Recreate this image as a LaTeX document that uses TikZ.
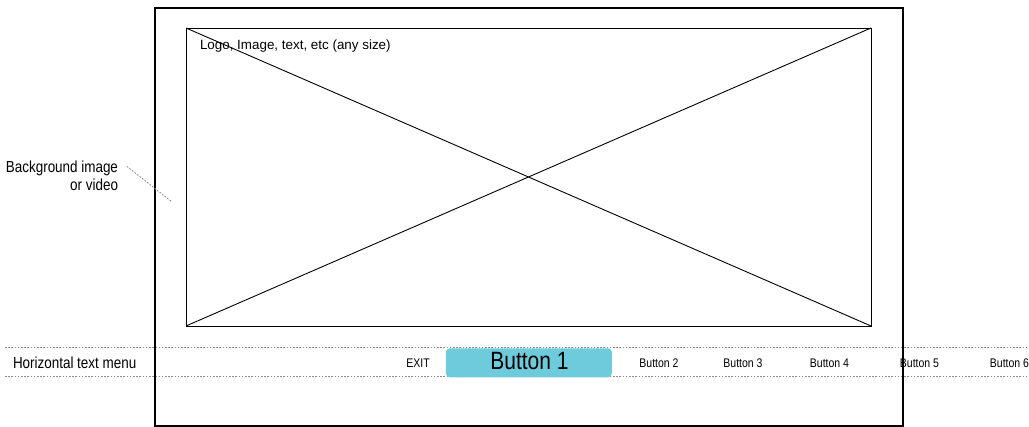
\documentclass[tikz,border=0pt]{standalone}
\usepackage{fontspec}
\setmainfont{Liberation Sans}[FakeStretch=0.84]
\newfontfamily\plainsans{Liberation Sans}
\begin{document}
\begin{tikzpicture}[x=1pt,y=-1pt,
  every node/.style={inner sep=0pt,outer sep=0pt,font=\fontsize{13}{15}\selectfont},
  frame/.style={draw=black,line width=2pt},
  hero/.style={draw=black,line width=0.9pt},
  guide/.style={draw=black!45,line width=1.1pt,dash pattern=on 1.6pt off 1.6pt},
  menuitem/.style={anchor=base,font=\fontsize{12.5}{14}\selectfont},
  note/.style={font=\fontsize{16}{18.3}\selectfont}]
\definecolor{btnblue}{HTML}{6ECBDC}
\useasboundingbox (0,0) rectangle (1029,427);

% menu guide lines
\coordinate (gTopL) at (5,347.5);
\coordinate (gTopR) at (1029,347.5);
\coordinate (gBotL) at (5,376.5);
\coordinate (gBotR) at (1029,376.5);
\draw[guide] (gTopL) -- (gTopR);
\draw[guide] (gBotL) -- (gBotR);

% hero area with placeholder cross
\node[hero,minimum width=685pt,minimum height=298pt] (hero) at (528.5,177) {};
\draw[line width=0.9pt] (hero.north west) -- (hero.south east);
\draw[line width=0.9pt] (hero.south west) -- (hero.north east);
\node[anchor=base west,font=\plainsans\fontsize{13.4}{15}\selectfont] (herotext) at (200,49.5) {Logo, Image, text, etc (any size)};

% menu
\node[fill=btnblue,rounded corners=4pt,minimum width=166pt,minimum height=29pt] (btn1box) at (528.8,362.8) {};
\node[anchor=base,font=\fontsize{25}{27}\selectfont] (btn1) at (529.5,370) {Button 1};
\node[menuitem] (exit) at (418,367.3) {EXIT};
\node[menuitem] (btn2) at (659,367.3) {Button 2};
\node[menuitem] (btn3) at (743,367.3) {Button 3};
\node[menuitem] (btn4) at (829.5,367.3) {Button 4};
\node[menuitem] (btn5) at (919.5,367.3) {Button 5};
\node[menuitem] (btn6) at (1009.5,367.3) {Button 6};

% screen frame
\node[frame,minimum width=748pt,minimum height=418pt] (screen) at (529,217) {};

% annotations
\node[note,anchor=base west] (menulabel) at (13,368.3) {Horizontal text menu};
\node[note,align=right,anchor=north east] (bglabel) at (118,161) {Background image\\or video};
\coordinate (bgtip) at (172,202);
\draw[guide,line width=0.9pt] (127,166.5) -- (bgtip);
\end{tikzpicture}
\end{document}
